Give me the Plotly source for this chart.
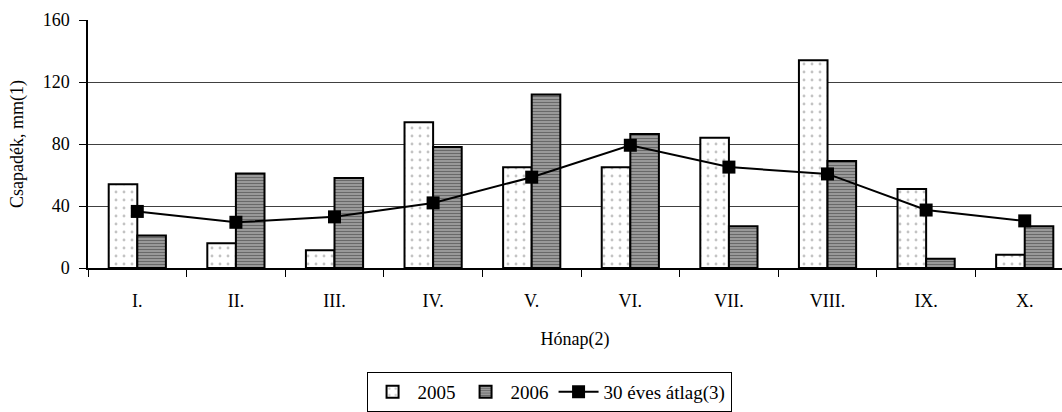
import plotly.graph_objects as go

months = ["I.", "II.", "III.", "IV.", "V.", "VI.", "VII.", "VIII.", "IX.", "X."]
y2005 = [54, 16, 11.5, 94, 65, 65, 84, 134, 51, 8.5]
y2006 = [21, 61, 58, 78, 112, 86.5, 27, 69, 6, 27]
avg30 = [36.5, 29.5, 33, 42, 58.6, 79.2, 65.1, 60.7, 37.4, 30.4]

FONT = "Liberation Serif"

fig = go.Figure()
fig.add_trace(go.Bar(
    x=months, y=y2005, name="2005",
    marker=dict(color="white", line=dict(color="black", width=2),
                pattern=dict(shape=".", fgcolor="#888", bgcolor="white", size=8, solidity=0.1)),
))
fig.add_trace(go.Bar(
    x=months, y=y2006, name="2006",
    marker=dict(color="#999", line=dict(color="black", width=2),
                pattern=dict(shape="-", fgcolor="#2a2a2a", bgcolor="#a8a8a8", size=3, solidity=0.5)),
))
fig.add_trace(go.Scatter(
    x=months, y=avg30, name="30 éves átlag(3)", mode="lines+markers",
    line=dict(color="black", width=2),
    marker=dict(symbol="square", size=13, color="black"),
))

fig.update_layout(
    width=1062, height=412,
    margin=dict(l=88, r=0, t=20, b=138),
    paper_bgcolor="white", plot_bgcolor="white",
    font=dict(family=FONT, size=18, color="black"),
    barmode="group", bargap=0.42, bargroupgap=0,
    showlegend=True,
    legend=dict(orientation="h", x=0.286, xanchor="left", y=-0.42, yanchor="top",
                bordercolor="black", borderwidth=1, font=dict(size=19, family=FONT),
                traceorder="normal", itemwidth=40, tracegroupgap=0),
    xaxis=dict(
        range=[-0.5, 9.378], showline=True, linecolor="black", linewidth=1.5,
        ticks="outside", tickson="boundaries", ticklen=7, tickcolor="black",
        showgrid=False,
        title=dict(text="Hónap(2)", font=dict(size=18, family=FONT), standoff=22),
        ticklabelstandoff=16,
    ),
    yaxis=dict(
        range=[0, 160], tickvals=[0, 40, 80, 120, 160], showline=True, linecolor="black",
        linewidth=1.5, ticks="outside", ticklen=7, tickcolor="black",
        showgrid=True, gridcolor="#404040", gridwidth=1, zeroline=False,
        title=dict(text="Csapadék, mm(1)", font=dict(size=18, family=FONT), standoff=14),
        ticklabelstandoff=6,
    ),
)

fig.write_html("out.html")
